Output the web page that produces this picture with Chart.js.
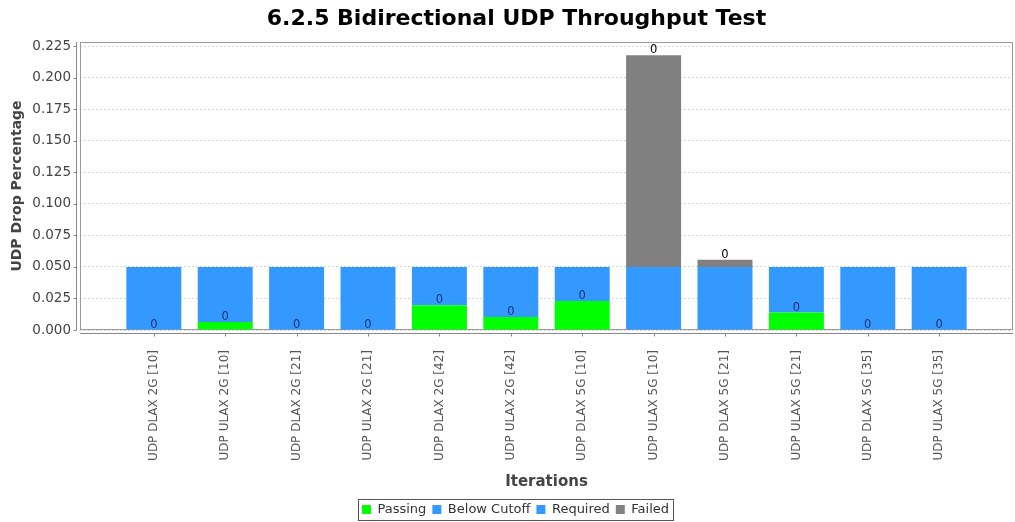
<!DOCTYPE html>
<html>
<head>
<meta charset="utf-8">
<title>6.2.5 Bidirectional UDP Throughput Test</title>
<script src="https://cdn.jsdelivr.net/npm/chart.js@4.4.1/dist/chart.umd.min.js"></script>
<style>
  html, body { margin: 0; padding: 0; background: #fff; }
  #wrap { width: 1015px; height: 522px; position: relative; }
</style>
</head>
<body>
<div id="wrap"><canvas id="udpChart"></canvas></div>
<script>
// Iterations on the x axis
const categories = [
  'UDP DLAX 2G [10]', 'UDP ULAX 2G [10]', 'UDP DLAX 2G [21]', 'UDP ULAX 2G [21]',
  'UDP DLAX 2G [42]', 'UDP ULAX 2G [42]', 'UDP DLAX 5G [10]', 'UDP ULAX 5G [10]',
  'UDP DLAX 5G [21]', 'UDP ULAX 5G [21]', 'UDP DLAX 5G [35]', 'UDP ULAX 5G [35]'
];

// Stacked series (UDP drop percentage)
const passing     = [0, 0.0064, 0, 0, 0.0196, 0.0103, 0.0230, null, null, 0.0138, 0, 0];
const belowCutoff = [0.05, 0.0436, 0.05, 0.05, 0.0304, 0.0397, 0.0270, 0, 0, 0.0362, 0.05, 0.05];
const required    = [0, 0, 0, 0, 0, 0, 0, 0.05, 0.05, 0, 0, 0];
const failed      = [0, 0, 0, 0, 0, 0, 0, 0.1678, 0.0056, 0, 0, 0];

// Item labels shown above segments
const passingLabels = ['0', '0', '0', '0', '0', '0', '0', null, null, '0', '0', '0'];
const failedLabels  = [null, null, null, null, null, null, null, '0', '0', null, null, null];

// Y axis
const yMax = 0.2282;
const yStep = 0.025;

Chart.defaults.font.family = "'DejaVu Sans', sans-serif";
Chart.defaults.color = '#444';

const toPoints = arr => arr.map((v, i) => ({ x: i, y: v }));

// Draw the plot frame and offset axis lines like the original
const framePlugin = {
  id: 'frame',
  beforeDatasetsDraw(chart) {
    const { ctx, chartArea: a, scales } = chart;
    ctx.save();
    ctx.strokeStyle = '#9a9a9a';
    ctx.lineWidth = 1;
    ctx.strokeRect(a.left + 0.5, a.top + 0.5, a.right - a.left - 1, a.bottom - a.top - 1);

    ctx.strokeStyle = '#888';
    // x axis line below the plot
    const xy = a.bottom + 3.5;
    ctx.beginPath();
    ctx.moveTo(a.left, xy);
    ctx.lineTo(a.right, xy);
    scales.x.ticks.forEach(t => {
      const px = Math.round(scales.x.getPixelForValue(t.value)) + 0.5;
      ctx.moveTo(px, xy);
      ctx.lineTo(px, xy + 3);
    });
    // y axis line left of the plot
    const yx = a.left - 3.5;
    ctx.moveTo(yx, a.top);
    ctx.lineTo(yx, a.bottom);
    scales.y.ticks.forEach(t => {
      const py = Math.round(scales.y.getPixelForValue(t.value)) + 0.5;
      ctx.moveTo(yx, py);
      ctx.lineTo(yx - 3, py);
    });
    ctx.stroke();
    ctx.restore();
  }
};

// "0" item labels above segments
const itemLabelPlugin = {
  id: 'itemLabels',
  afterDatasetsDraw(chart) {
    const { ctx } = chart;
    ctx.save();
    ctx.font = "11.5px 'DejaVu Sans', sans-serif";
    ctx.textAlign = 'center';
    ctx.textBaseline = 'middle';
    chart.data.datasets.forEach((ds, di) => {
      if (!ds.itemLabels) return;
      const meta = chart.getDatasetMeta(di);
      meta.data.forEach((bar, i) => {
        const txt = ds.itemLabels[i];
        if (txt == null) return;
        ctx.fillStyle = ds.itemLabelColor;
        ctx.fillText(txt, bar.x, bar.y - 5);
      });
    });
    ctx.restore();
  }
};

// Nudge title and legend like the original, and draw a border around the legend
const legendBoxPlugin = {
  id: 'legendBox',
  afterUpdate(chart) {
    const tb = chart.titleBlock;
    if (tb) { tb.left += 10; tb.right += 10; }
    const lg = chart.legend;
    if (!lg) return;
    const dx = 9, dy = 5;
    lg.left += dx; lg.right += dx;
    lg.top += dy; lg.bottom += dy;
    (lg.legendHitBoxes || []).forEach(b => { b.left += dx; b.top += dy; });
  },
  afterDraw(chart) {
    const boxes = chart.legend && chart.legend.legendHitBoxes;
    if (!boxes || !boxes.length) return;
    const left = Math.min(...boxes.map(b => b.left)) - 4;
    const right = Math.max(...boxes.map(b => b.left + b.width)) + 4;
    const top = Math.min(...boxes.map(b => b.top)) - 4;
    const bottom = Math.max(...boxes.map(b => b.top + b.height)) + 4;
    const { ctx } = chart;
    ctx.save();
    ctx.strokeStyle = '#555';
    ctx.lineWidth = 1;
    ctx.strokeRect(Math.round(left) + 0.5, Math.round(top) + 0.5, Math.round(right - left), Math.round(bottom - top));
    ctx.restore();
  }
};

const ctx = document.getElementById('udpChart').getContext('2d');

new Chart(ctx, {
  type: 'bar',
  data: {
    datasets: [
      {
        label: 'Passing',
        data: toPoints(passing),
        backgroundColor: '#00ff00',
        itemLabels: passingLabels,
        itemLabelColor: '#1f3170'
      },
      {
        label: 'Below Cutoff',
        data: toPoints(belowCutoff),
        backgroundColor: '#3399ff'
      },
      {
        label: 'Required',
        data: toPoints(required),
        backgroundColor: '#3399ff'
      },
      {
        label: 'Failed',
        data: toPoints(failed),
        backgroundColor: '#808080',
        itemLabels: failedLabels,
        itemLabelColor: '#000'
      }
    ]
  },
  options: {
    responsive: true,
    maintainAspectRatio: false,
    animation: false,
    categoryPercentage: 1,
    barPercentage: 0.77,
    borderWidth: 0,
    layout: { padding: { left: 0, right: 2, top: 0, bottom: 1 } },
    plugins: {
      title: {
        display: true,
        text: '6.2.5 Bidirectional UDP Throughput Test',
        color: '#000',
        font: { size: 22, weight: 'bold' },
        padding: { top: 6, bottom: 9.6 }
      },
      legend: {
        position: 'bottom',
        labels: {
          boxWidth: 9,
          boxHeight: 9,
          padding: 6,
          color: '#333',
          font: { size: 13 }
        }
      },
      tooltip: {
        callbacks: {
          title: items => categories[items[0].parsed.x],
          label: c => `${c.dataset.label}: ${c.parsed.y}`
        }
      }
    },
    scales: {
      x: {
        type: 'linear',
        stacked: true,
        offset: false,
        min: -1.034,
        max: 12.034,
        grid: { display: false, drawTicks: false, offset: false },
        border: { display: false },
        afterBuildTicks: scale => {
          scale.ticks = categories.map((_, i) => ({ value: i }));
        },
        afterFit: scale => { scale.height = 162; },
        ticks: {
          autoSkip: false,
          minRotation: 90,
          maxRotation: 90,
          padding: 20,
          color: '#555',
          font: { size: 12 },
          callback: v => categories[v]
        },
        title: {
          display: true,
          text: 'Iterations',
          color: '#444',
          font: { size: 15, weight: 'bold' },
          padding: { top: 0, bottom: 1 }
        }
      },
      y: {
        stacked: true,
        min: 0,
        max: yMax,
        grid: { color: '#d4d4d4', drawTicks: false },
        border: { display: false, dash: [2, 2] },
        afterFit: scale => { scale.width = 80; },
        ticks: {
          stepSize: yStep,
          includeBounds: false,
          padding: 9,
          color: '#444',
          font: { size: 13.5 },
          callback: v => v.toFixed(3)
        },
        title: {
          display: true,
          text: 'UDP Drop Percentage',
          color: '#444',
          font: { size: 14, weight: 'bold' },
          padding: { top: 9, bottom: 0 }
        }
      }
    }
  },
  plugins: [framePlugin, itemLabelPlugin, legendBoxPlugin]
});
</script>
</body>
</html>
